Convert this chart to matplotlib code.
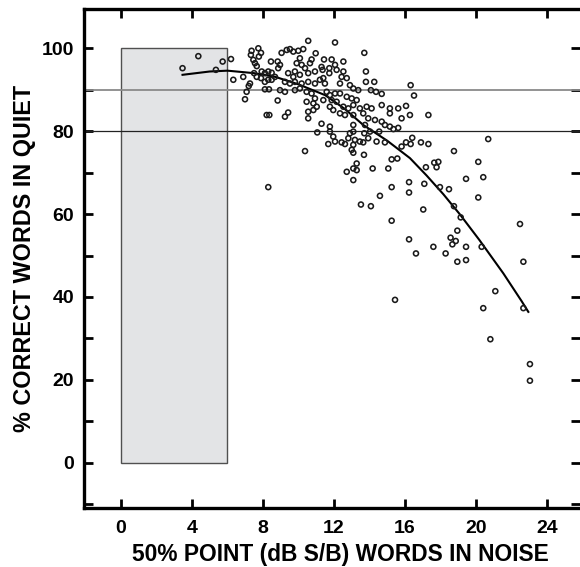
import matplotlib
matplotlib.use("Agg")
import matplotlib.pyplot as plt
from matplotlib.patches import Rectangle
from matplotlib.ticker import MultipleLocator

plt.rcParams['font.family'] = ['Liberation Sans', 'DejaVu Sans']

# ---------------- data ----------------
pts = [
    (3.47,95.2),(4.36,98.1),(5.35,94.8),(5.73,96.8),
    (6.2,97.4),(6.33,92.4),(6.89,93.1),(7.27,91.5),(7.2,90.9),(7.08,89.5),(6.99,87.7),
    (7.36,99.4),(7.32,98.4),(7.46,97.2),(7.55,96.4),(7.65,95.7),(7.74,100),(7.89,98.9),
    (7.77,98),(7.5,94),(7.65,93.1),(7.93,94.4),(8.11,94),(8.3,94.4),(8.49,94.1),
    (7.89,92.8),(8.11,91.9),(8.3,92.4),(8.49,92.4),(8.68,93.1),(8.11,90.1),(8.34,90.1),
    (8.45,96.8),(8.83,96.8),(8.96,96),(8.86,95.2),(9.05,98.9),(9.34,99.6),(9.52,99.8),
    (9.71,99.2),(9.99,99.4),(10.27,99.8),(10.55,101.8),(10.97,98.8),(10.08,97.6),
    (9.9,96.4),(10.18,96),(10.65,96.4),(10.74,97.3),(10.37,95.2),(9.8,94.4),(9.42,94),
    (9.71,93.1),(10.08,93.6),(10.55,94),(10.93,94.4),(11.3,95.5),
    (9.24,91.9),(9.52,91.5),(9.8,91.9),(10.18,91.5),(10.55,91.9),(10.93,91.5),(11.21,92.4),
    (8.96,89.9),(9.24,89.5),(9.8,89.9),(10.08,90.3),(10.46,89.5),(10.74,89.1),(10.93,87.9),
    (10.84,86.7),(10.46,87.1),(8.83,87.4),(8.21,83.9),(8.36,83.9),(9.24,83.5),(9.42,84.5),
    (10.55,84.7),(10.84,85.1),(11.03,85.9),(10.55,83.1),(11.3,81.8),
    (12.06,101.4),(13.71,98.9),(12.53,96.8),(11.44,97.3),(11.87,97.3),(12.06,96),
    (12.15,94.8),(11.74,95.2),(11.36,94.8),(11.74,94),(11.4,92.8),(11.49,91.5),
    (12.53,94.4),(12.43,93.1),(12.72,92.8),(12.34,91.5),(12.9,91.1),(13.09,90.3),
    (13.37,89.9),(13.8,94.4),(13.8,91.9),(14.27,91.9),(14.08,89.9),(14.37,89.5),
    (14.69,89),(16.32,91.1),(16.51,88.6),(11.59,89.5),(11.77,88.7),(12.06,89.1),
    (12.34,89.1),(11.4,87.5),(11.87,87.5),(12.15,87.1),(12.72,88.3),(13,87.9),
    (13.28,87.5),(13.09,86.3),(11.77,85.9),(11.96,85.1),(12.53,85.9),(12.81,85.5),
    (13.46,85.5),(13.84,85.9),(14.12,85.5),(14.69,86.3),(15.15,85.5),(15.62,85.5),
    (16.06,86.1),(15.15,84.3),(16.28,83.9),(15.81,83.1),(12.34,84.3),(12.62,83.9),
    (13.09,83.9),(13.65,84.3),(13.93,83.1),(14.31,82.7),(14.69,82.3),(14.87,81.5),
    (15.15,81.1),(13.75,81.5),(13.09,81.5),(11.77,81.1),
    (8.3,66.5),(10.37,75.2),(11.06,79.7),
    (11.68,76.9),(12.06,77.5),(11.96,78.7),(11.77,79.9),(12.43,77.3),(12.62,76.9),
    (12.81,78.3),(12.9,79.5),(13.09,79.9),(13.18,77.9),(13.09,76.7),(13,75.5),
    (13.09,74.8),(13.46,77.5),(13.65,77.3),(13.71,79.5),(13.93,78.3),(14.03,79.9),
    (14.4,77.5),(14.87,77.3),(14.55,79.9),(15.35,80.5),(15.62,80.8),(13.69,74.3),
    (13.28,72.2),(13.09,71),(13.28,70.6),(12.72,70.2),(13.09,68.2),(14.18,71),
    (15.06,71),(15.25,73.2),(15.57,73.4),(15.25,66.5),(14.59,64.4),(13.52,62.3),
    (14.08,61.9),(15.25,58.4),(16.23,67.7),(16.23,65.2),(15.81,76.3),(16.06,77.3),
    (16.32,76.9),(16.41,78.4),
    (17.32,83.9),(16.9,77.3),(17.32,76.9),(20.69,78.1),(18.76,75.2),(20.13,72.6),
    (17.65,72.4),(17.88,72.6),(17.78,71.3),(17.18,71.3),(17.09,67.3),(17.97,66.5),
    (18.48,66),(19.44,68.5),(20.41,68.9),(20.13,64),(18.76,61.9),(17.03,61.1),(19.14,59.2),
    (22.48,57.6),(18.95,56),(16.23,53.9),(18.57,54.3),(18.86,53.5),(18.67,52.7),
    (17.6,52.1),(19.44,52.1),(20.32,52.1),(16.62,50.5),(18.29,50.5),(18.95,48.5),
    (19.44,48.9),(22.67,48.5),(15.44,39.3),(21.09,41.4),(20.41,37.3),(22.67,37.3),
    (20.81,29.8),(23.04,23.8),(23.04,19.8),
]
x_vals = [p[0] for p in pts]
y_vals = [p[1] for p in pts]

curve_x = [3.47, 5.0, 6.0, 7.5, 8.7, 10.0, 11.5, 12.6, 13.65, 15.0, 16.28, 17.22, 18.16, 19.1, 20.2, 21.54, 22.57, 22.95]
curve_y = [93.6, 94.4, 94.6, 94.0, 93.1, 91.3, 88.7, 85.4, 81.5, 77.7, 73.5, 69.3, 64.8, 59.9, 53.7, 45.7, 39.0, 36.4]

box_x = (0, 6)
box_y = (0, 100)
ref_lines = [90, 80]

x_ticks = [0, 4, 8, 12, 16, 20, 24]
y_ticks = [0, 20, 40, 60, 80, 100]

# ---------------- figure ----------------
fig = plt.figure(figsize=(5.8, 5.67), dpi=100)
ax = fig.add_axes([84/580, (567-507.5)/567, (580-84)/580, (507.5-8.5)/567])
ax.set_xlim(-2.08, 25.86)
ax.set_ylim(-10.8, 109.6)

ax.add_patch(Rectangle((box_x[0], box_y[0]), box_x[1]-box_x[0], box_y[1]-box_y[0],
                       facecolor='#e3e4e6', edgecolor='#505050', linewidth=1.0, zorder=1))
ax.axhline(ref_lines[0], color='#8a8a8a', linewidth=1.3, zorder=2)
ax.axhline(ref_lines[1], color='#222222', linewidth=0.9, zorder=2)

ax.plot(curve_x, curve_y, color='black', linewidth=1.5, zorder=3)
ax.scatter(x_vals, y_vals, s=3.6**2, facecolors='none', edgecolors='#1a1a1a',
           linewidths=1.15, zorder=4)

ax.set_xticks(x_ticks)
ax.set_yticks(y_ticks)
ax.yaxis.set_minor_locator(MultipleLocator(10))
ax.tick_params(which='both', direction='in', length=6.3, width=2.0,
               top=True, right=True, labelsize=14)
ax.tick_params(axis='x', pad=9)
ax.tick_params(axis='y', pad=7)
for lab in ax.get_xticklabels() + ax.get_yticklabels():
    lab.set_fontweight('bold')

for s in ['left', 'bottom', 'top']:
    ax.spines[s].set_linewidth(2.4)
ax.spines['right'].set_visible(False)

ax.set_xlabel('50% POINT (dB S/B) WORDS IN NOISE', fontsize=16.4, fontweight='bold')
ax.xaxis.set_label_coords(0.516, -0.071)
ax.set_ylabel('% CORRECT WORDS IN QUIET', fontsize=16.8, fontweight='bold')
ax.yaxis.set_label_coords(-0.097, 0.5)

fig.savefig('out.png', dpi=100)
